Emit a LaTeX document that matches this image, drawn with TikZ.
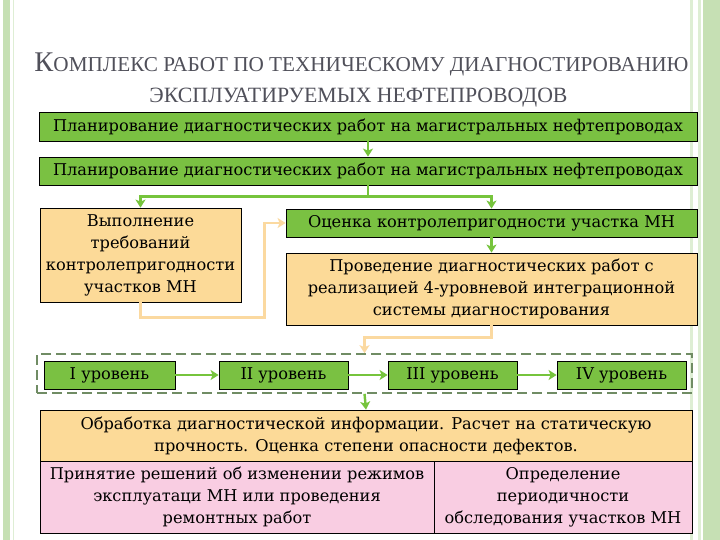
\documentclass[tikz,border=0pt]{standalone}
\usepackage{fontspec}
\setmainfont{DejaVu Serif}
\newfontfamily\titlefont{Liberation Serif}
\usetikzlibrary{arrows.meta,calc}
\definecolor{gfill}{RGB}{122,193,66}
\definecolor{ofill}{RGB}{252,218,152}
\definecolor{pfill}{RGB}{249,205,226}
\definecolor{garrow}{RGB}{118,196,60}
\definecolor{oarrow}{RGB}{251,217,160}
\definecolor{dashc}{RGB}{112,140,100}
\definecolor{stripe}{RGB}{198,224,180}
\definecolor{stripel}{RGB}{222,238,212}
\definecolor{titlec}{RGB}{80,80,90}
\tikzset{
  x=1pt,y=-1pt,
  boxbase/.style={draw=black,line width=0.8pt,inner sep=0pt,align=center,
    font=\fontsize{16.2}{22}\selectfont},
  gbox/.style={boxbase,fill=gfill},
  obox/.style={boxbase,fill=ofill},
  pbox/.style={boxbase,fill=pfill},
  garr/.style={draw=garrow,line width=2.4pt,-{Stealth[length=8pt,width=10pt,inset=2pt]}},
  gline/.style={draw=garrow,line width=2.4pt},
  oarr/.style={draw=oarrow,line width=2.4pt,-{Stealth[length=8pt,width=10pt,inset=2pt]}},
}
\begin{document}
\begin{tikzpicture}
\useasboundingbox (0,0) rectangle (720,540);
\fill[white] (0,0) rectangle (720,540);
% side decorations
\fill[stripe] (3,0) rectangle (10,540);
\draw[stripel,line width=1pt] (13.5,0) -- (13.5,540);
\fill[stripel] (690,0) rectangle (693,540);
\fill[stripel] (698,0) rectangle (701,540);
\fill[stripe] (703,0) rectangle (720,540);
% title
\node[titlec,anchor=base,inner sep=0pt] (t1) at (361.5,72)
  {\titlefont\fontsize{28.5}{30}\selectfont К\fontsize{21.2}{24}\selectfont ОМПЛЕКС РАБОТ ПО ТЕХНИЧЕСКОМУ ДИАГНОСТИРОВАНИЮ};
\node[titlec,anchor=base,inner sep=0pt] (t2) at (358.5,103)
  {\titlefont\fontsize{21.8}{24}\selectfont ЭКСПЛУАТИРУЕМЫХ НЕФТЕПРОВОДОВ};
% boxes
\node[gbox,minimum width=658,minimum height=29] (b1) at (368,126.5)
  {Планирование диагностических работ на магистральных нефтепроводах};
\node[gbox,minimum width=658,minimum height=28] (b2) at (368,171)
  {Планирование диагностических работ на магистральных нефтепроводах};
\node[obox,minimum width=201,minimum height=94] (lb) at (140.5,255)
  {Выполнение\\требований\\контролепригодности\\участков МН};
\node[gbox,minimum width=411,minimum height=28] (oc) at (491.5,223)
  {Оценка контролепригодности участка МН};
\node[obox,minimum width=411,minimum height=72] (pr) at (491.5,289)
  {Проведение диагностических работ с\\реализацией 4-уровневой интеграционной\\системы диагностирования};
\node[draw=dashc,line width=1.6pt,dash pattern=on 10pt off 5pt,minimum width=655,minimum height=39,inner sep=0pt] (db) at (364.5,373.5) {};
\node[gbox,minimum width=131,minimum height=28] (l1) at (109.5,375) {I уровень};
\node[gbox,minimum width=129,minimum height=28] (l2) at (283.5,375) {II уровень};
\node[gbox,minimum width=129,minimum height=28] (l3) at (452.5,375) {III уровень};
\node[gbox,minimum width=129,minimum height=28] (l4) at (621.5,375) {IV уровень};
\node[obox,minimum width=652,minimum height=51] (ob) at (366,435.5)
  {Обработка диагностической информации. Расчет на статическую\\прочность. Оценка степени опасности дефектов.};
\node[pbox,minimum width=394,minimum height=72] (pl) at (237,497)
  {Принятие решений об изменении режимов\\эксплуатаци МН или проведения\\ремонтных работ};
\node[pbox,minimum width=258,minimum height=72] (pr2) at (563,497)
  {Определение\\периодичности\\обследования участков МН};
% connectors
\draw[garr] (b1.south) -- (b2.north);
\coordinate (split) at ($(b2.south)+(0,11)$);
\draw[gline] (b2.south) -- (split);
\draw[garr] (split) -| (lb.north);
\draw[garr] (split) -| (oc.north);
\draw[garr] (oc.south) -- (pr.north);
\coordinate (ol1) at ($(lb.south)+(0,15)$);
\coordinate (ol2) at ($(oc.west)+(-21,0)$);
\draw[oarr] (lb.south) -- (ol1) -| (ol2) -- (oc.west);
\coordinate (ol3) at ($(pr.south)+(0,12)$);
\draw[oarr] (pr.south) -- (ol3) -| (db.north);
\draw[garr] (l1) -- (l2);
\draw[garr] (l2) -- (l3);
\draw[garr] (l3) -- (l4);
\draw[garr] (db.south) -- (ob.north);
\end{tikzpicture}
\end{document}
